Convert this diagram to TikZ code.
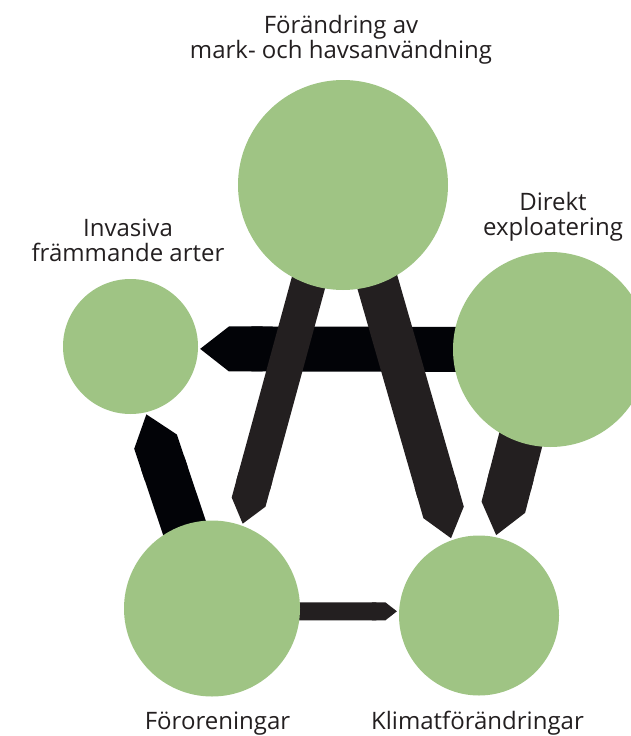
\documentclass[tikz,border=0pt]{standalone}
\usepackage{fontspec}
\setmainfont{Open Sans}
\usetikzlibrary{arrows.meta, backgrounds, calc}
\definecolor{leaf}{HTML}{9FC484}
\definecolor{ink}{HTML}{231F20}
\definecolor{pitch}{HTML}{020307}
\tikzset{driver/.style={circle, fill=leaf, inner sep=0pt}}
\tikzset{band/.style={line width=#1, -{Triangle Cap[cap angle=76]}, shorten >=2pt}}
\tikzset{caption/.style={text=ink, font=\fontsize{24}{25}\selectfont, align=center, inner sep=0pt}}

\begin{document}
\begin{tikzpicture}[x=1pt, y=-1pt]
    \useasboundingbox (0, 0) rectangle (630, 736);
    \node[driver, minimum size=210] (land) at (343, 185) {};
    \node[driver, minimum size=195] (expl) at (550.5, 349.5) {};
    \node[driver, minimum size=135] (inv) at (130.5, 346.5) {};
    \node[driver, minimum size=176] (foro) at (212, 608.5) {};
    \node[driver, minimum size=160] (klim) at (479, 615.5) {};
    \begin{scope}[on background layer]
        \draw[band=45pt, pitch] (expl.center) -- (inv.-2);
        \draw[band=45pt, pitch] ($(foro)+(-11.6, -33.2)$) -- (inv.-77);
        \draw[band=35pt, ink] ($(land)+(-24, 59)$) -- (foro.70);
        \draw[band=42pt, ink] ($(land)+(28, 75)$) -- (klim.110);
        \draw[band=45pt, ink] ($(expl)+(-22, 60)$) -- (klim.78);
        \draw[band=18pt, ink] ($(foro)+(0, 3)$) -- (klim.177);
    \end{scope}
    \node[caption, anchor=north] (landlbl) at (341, 15) {Förändring av\\mark- och havsanvändning};
    \node[caption, anchor=north] (expllbl) at (553, 192) {Direkt\\exploatering};
    \node[caption, anchor=north] (invlbl) at (128, 219) {Invasiva\\främmande arter};
    \node[caption, anchor=base] (forolbl) at (217.5, 729) {Föroreningar};
    \node[caption, anchor=base] (klimlbl) at (477.5, 729) {Klimatförändringar};
\end{tikzpicture}
\end{document}
